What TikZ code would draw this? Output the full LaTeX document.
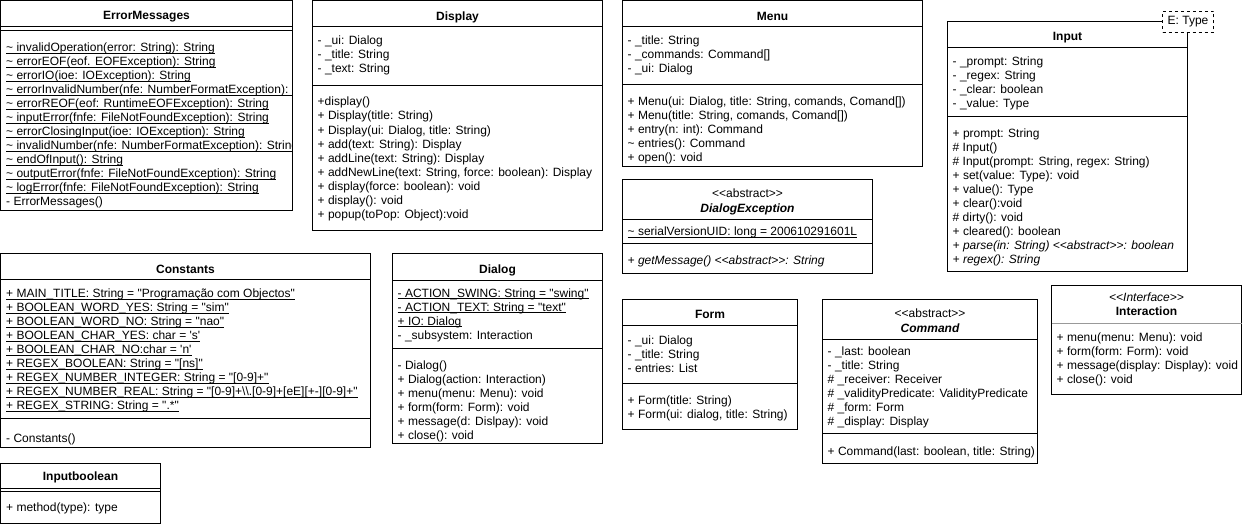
\documentclass[tikz,border=0pt]{standalone}
\usepackage{fontspec}
\setmainfont{Liberation Sans}[Ligatures=TeXOff]
\newcommand\TLD{\textasciitilde}
\newcommand\BSL{\textbackslash}
\newcommand\umlrows[5][]{%
  \foreach \rowtext [count=\rowi] in {#5}{%
    \node[row,#1] (#4-\rowi) at (#2,{#3+14*(\rowi-1)}) {\rowtext};
  }}
\tikzset{
  box/.style={draw=black, line width=1pt, fill=white},
  sep/.style={draw=black, line width=1pt},
  row/.style={anchor=base west, inner sep=0pt, yshift=-1pt, font=\fontsize{12}{14}\selectfont},
  ttl/.style={anchor=base, inner sep=0pt, yshift=-1pt, font=\fontsize{12}{14}\selectfont\bfseries},
  ster/.style={anchor=base, inner sep=0pt, yshift=-1pt, font=\fontsize{12}{14}\selectfont},
  ul/.style={append after command={([yshift=-1.6pt]\tikzlastnode.base west) edge[draw, line width=0.9pt] ([yshift=-1.6pt]\tikzlastnode.base east)}},
  it/.style={font=\fontsize{12}{14}\selectfont\itshape},
}
\begin{document}
\begin{tikzpicture}[x=1pt,y=-1pt]
\useasboundingbox[fill=white] (0,0) rectangle (1243,527);

% ErrorMessages
\draw[box] (0.5,0.5) rectangle (292.5,210.5);
\draw[sep] (0.5,26.5) -- (292.5,26.5);
\draw[sep] (0.5,30.5) -- (292.5,30.5);
\node[ttl] (em-title) at (146.5,19) {ErrorMessages};
\begin{scope}
\clip (0.5,0) rectangle (292,210);
\umlrows[ul]{6}{50.5}{em}{
 {\TLD{} invalidOperation(error: String): String},
 {\TLD{} errorEOF(eof. EOFException): String},
 {\TLD{} errorIO(ioe: IOException): String},
 {\TLD{} errorInvalidNumber(nfe: NumberFormatException): String},
 {\TLD{} errorREOF(eof: RuntimeEOFException): String},
 {\TLD{} inputError(fnfe: FileNotFoundException): String},
 {\TLD{} errorClosingInput(ioe: IOException): String},
 {\TLD{} invalidNumber(nfe: NumberFormatException): String},
 {\TLD{} endOfInput(): String},
 {\TLD{} outputError(fnfe: FileNotFoundException): String},
 {\TLD{} logError(fnfe: FileNotFoundException): String}}
\end{scope}
\node[row] (em-ctor) at (6,204.5) {- ErrorMessages()};

% Display
\draw[box] (312.5,0.5) rectangle (602.5,230.5);
\draw[sep] (312.5,26.5) -- (602.5,26.5);
\draw[sep] (312.5,85.5) -- (602.5,85.5);
\node[ttl] (dp-title) at (457.5,19.5) {Display};
\umlrows{317.5}{44}{dpa}{{- \_ui: Dialog},{- \_title: String},{- \_text: String}}
\umlrows{317.5}{105}{dpm}{
 {+display()},
 {+ Display(title: String)},
 {+ Display(ui: Dialog, title: String)},
 {+ add(text: String): Display},
 {+ addLine(text: String): Display},
 {+ addNewLine(text: String, force: boolean): Display},
 {+ display(force: boolean): void},
 {+ display(): void},
 {+ popup(toPop: Object):void}}

% Menu
\draw[box] (622.5,0.5) rectangle (922.5,166.5);
\draw[sep] (622.5,26.5) -- (922.5,26.5);
\draw[sep] (622.5,84.5) -- (922.5,84.5);
\node[ttl] (mn-title) at (772.5,19.5) {Menu};
\umlrows{627.5}{44}{mna}{{- \_title: String},{- \_commands: Command[]},{- \_ui: Dialog}}
\umlrows{627.5}{104.5}{mnm}{
 {+ Menu(ui: Dialog, title: String, comands, Comand[])},
 {+ Menu(title: String, comands, Comand[])},
 {+ entry(n: int): Command},
 {\TLD{} entries(): Command},
 {+ open(): void}}

% DialogException
\draw[box] (622.5,179.5) rectangle (872.5,273.5);
\draw[sep] (622.5,219.5) -- (872.5,219.5);
\draw[sep] (622.5,243.5) -- (872.5,243.5);
\node[ster] (de-st) at (747.5,196) {<{}<abstract>{}>};
\node[ttl,font=\fontsize{12}{14}\selectfont\bfseries\itshape] (de-title) at (747.5,211.5) {DialogException};
\node[row,ul] (de-a1) at (627.5,234.5) {\TLD{} serialVersionUID: long = 200610291601L};
\node[row,it] (de-m1) at (627.5,263.5) {+ getMessage() <{}<abstract>{}>: String};

% Input
\draw[box] (947.5,21.5) rectangle (1187.5,271.5);
\draw[sep] (947.5,47.5) -- (1187.5,47.5);
\draw[sep] (947.5,116.5) -- (1187.5,116.5);
\node[ttl] (in-title) at (1067.5,40) {Input};
\node[draw, dashed, line width=1pt, fill=white, minimum width=51pt, minimum height=21pt, inner sep=0pt, font=\fontsize{12}{14}\selectfont] (in-type) at (1188,22) {E: Type};
\umlrows{952.5}{64.5}{ina}{{- \_prompt: String},{- \_regex: String},{- \_clear: boolean},{- \_value: Type}}
\umlrows{952.5}{136.5}{inm}{
 {+ prompt: String},
 {\# Input()},
 {\# Input(prompt: String, regex: String)},
 {+ set(value: Type): void},
 {+ value(): Type},
 {+ clear():void},
 {\# dirty(): void},
 {+ cleared(): boolean}}
\umlrows[it]{952.5}{248.5}{ini}{
 {+ parse(in: String) <{}<abstract>{}>: boolean},
 {+ regex(): String}}

% Constants
\draw[box] (0.5,253.5) rectangle (370.5,447.5);
\draw[sep] (0.5,279.5) -- (370.5,279.5);
\draw[sep] (0.5,418.5) -- (370.5,418.5);
\node[ttl] (cs-title) at (185.5,272) {Constants};
\umlrows[ul]{6}{296.5}{csa}{
 {+ MAIN\_TITLE: String = "Programação com Objectos"},
 {+ BOOLEAN\_WORD\_YES: String = "sim"},
 {+ BOOLEAN\_WORD\_NO: String = "nao"},
 {+ BOOLEAN\_CHAR\_YES: char = 's'},
 {+ BOOLEAN\_CHAR\_NO:char = 'n'},
 {+ REGEX\_BOOLEAN: String = "[ns]"},
 {+ REGEX\_NUMBER\_INTEGER: String = "[0-9]+"},
 {+ REGEX\_NUMBER\_REAL: String = "[0-9]+\BSL\BSL.[0-9]+[eE][+-][0-9]+"},
 {+ REGEX\_STRING: String = ".*"}}
\node[row] (cs-ctor) at (6,441) {- Constants()};

% Inputboolean
\draw[box] (0.5,463.5) rectangle (160.5,523.5);
\draw[sep] (0.5,488.5) -- (160.5,488.5);
\draw[sep] (0.5,491.5) -- (160.5,491.5);
\node[ttl] (ib-title) at (80.5,479) {Inputboolean};
\node[row] (ib-m1) at (6,510.5) {+ method(type): type};

% Dialog
\draw[box] (392.5,253.5) rectangle (602.5,443.5);
\draw[sep] (392.5,280.5) -- (602.5,280.5);
\draw[sep] (392.5,348.5) -- (602.5,348.5);
\node[ttl] (dg-title) at (497.5,272) {Dialog};
\umlrows[ul]{397.5}{296}{dga}{
 {- ACTION\_SWING: String = "swing"},
 {- ACTION\_TEXT: String = "text"},
 {+ IO: Dialog}}
\node[row] (dga-4) at (397.5,338) {- \_subsystem: Interaction};
\umlrows{397.5}{368.5}{dgm}{
 {- Dialog()},
 {+ Dialog(action: Interaction)},
 {+ menu(menu: Menu): void},
 {+ form(form: Form): void},
 {+ message(d: Dislpay): void},
 {+ close(): void}}

% Form
\draw[box] (622.5,299.5) rectangle (797.5,429.5);
\draw[sep] (622.5,325.5) -- (797.5,325.5);
\draw[sep] (622.5,383.5) -- (797.5,383.5);
\node[ttl] (fm-title) at (710,317.5) {Form};
\umlrows{627.5}{343}{fma}{{- \_ui: Dialog},{- \_title: String},{- entries: List}}
\umlrows{627.5}{403}{fmm}{{+ Form(title: String)},{+ Form(ui: dialog, title: String)}}

% Command
\draw[box] (822.5,299.5) rectangle (1037.5,463.5);
\draw[sep] (822.5,339.5) -- (1037.5,339.5);
\draw[sep] (822.5,433.5) -- (1037.5,433.5);
\node[ster] (cm-st) at (930,316) {<{}<abstract>{}>};
\node[ttl,font=\fontsize{12}{14}\selectfont\bfseries\itshape] (cm-title) at (930,331.5) {Command};
\umlrows{827.5}{354.5}{cma}{
 {- \_last: boolean},
 {- \_title: String},
 {\# \_receiver: Receiver},
 {\# \_validityPredicate: ValidityPredicate},
 {\# \_form: Form},
 {\# \_display: Display}}
\node[row] (cm-m1) at (827.5,454.5) {+ Command(last: boolean, title: String)};

% Interaction
\draw[box] (1051.5,285.5) rectangle (1241.5,394.5);
\draw[draw=black!40, line width=1pt] (1051.5,323.5) -- (1241.5,323.5);
\node[ster,font=\fontsize{12}{14}\selectfont\itshape] (ia-st) at (1146.5,300.5) {<{}<Interface>{}>};
\node[ttl] (ia-title) at (1146.5,314.5) {Interaction};
\umlrows{1056.5}{340.5}{iam}{
 {+ menu(menu: Menu): void},
 {+ form(form: Form): void},
 {+ message(display: Display): void},
 {+ close(): void}}
\end{tikzpicture}
\end{document}
